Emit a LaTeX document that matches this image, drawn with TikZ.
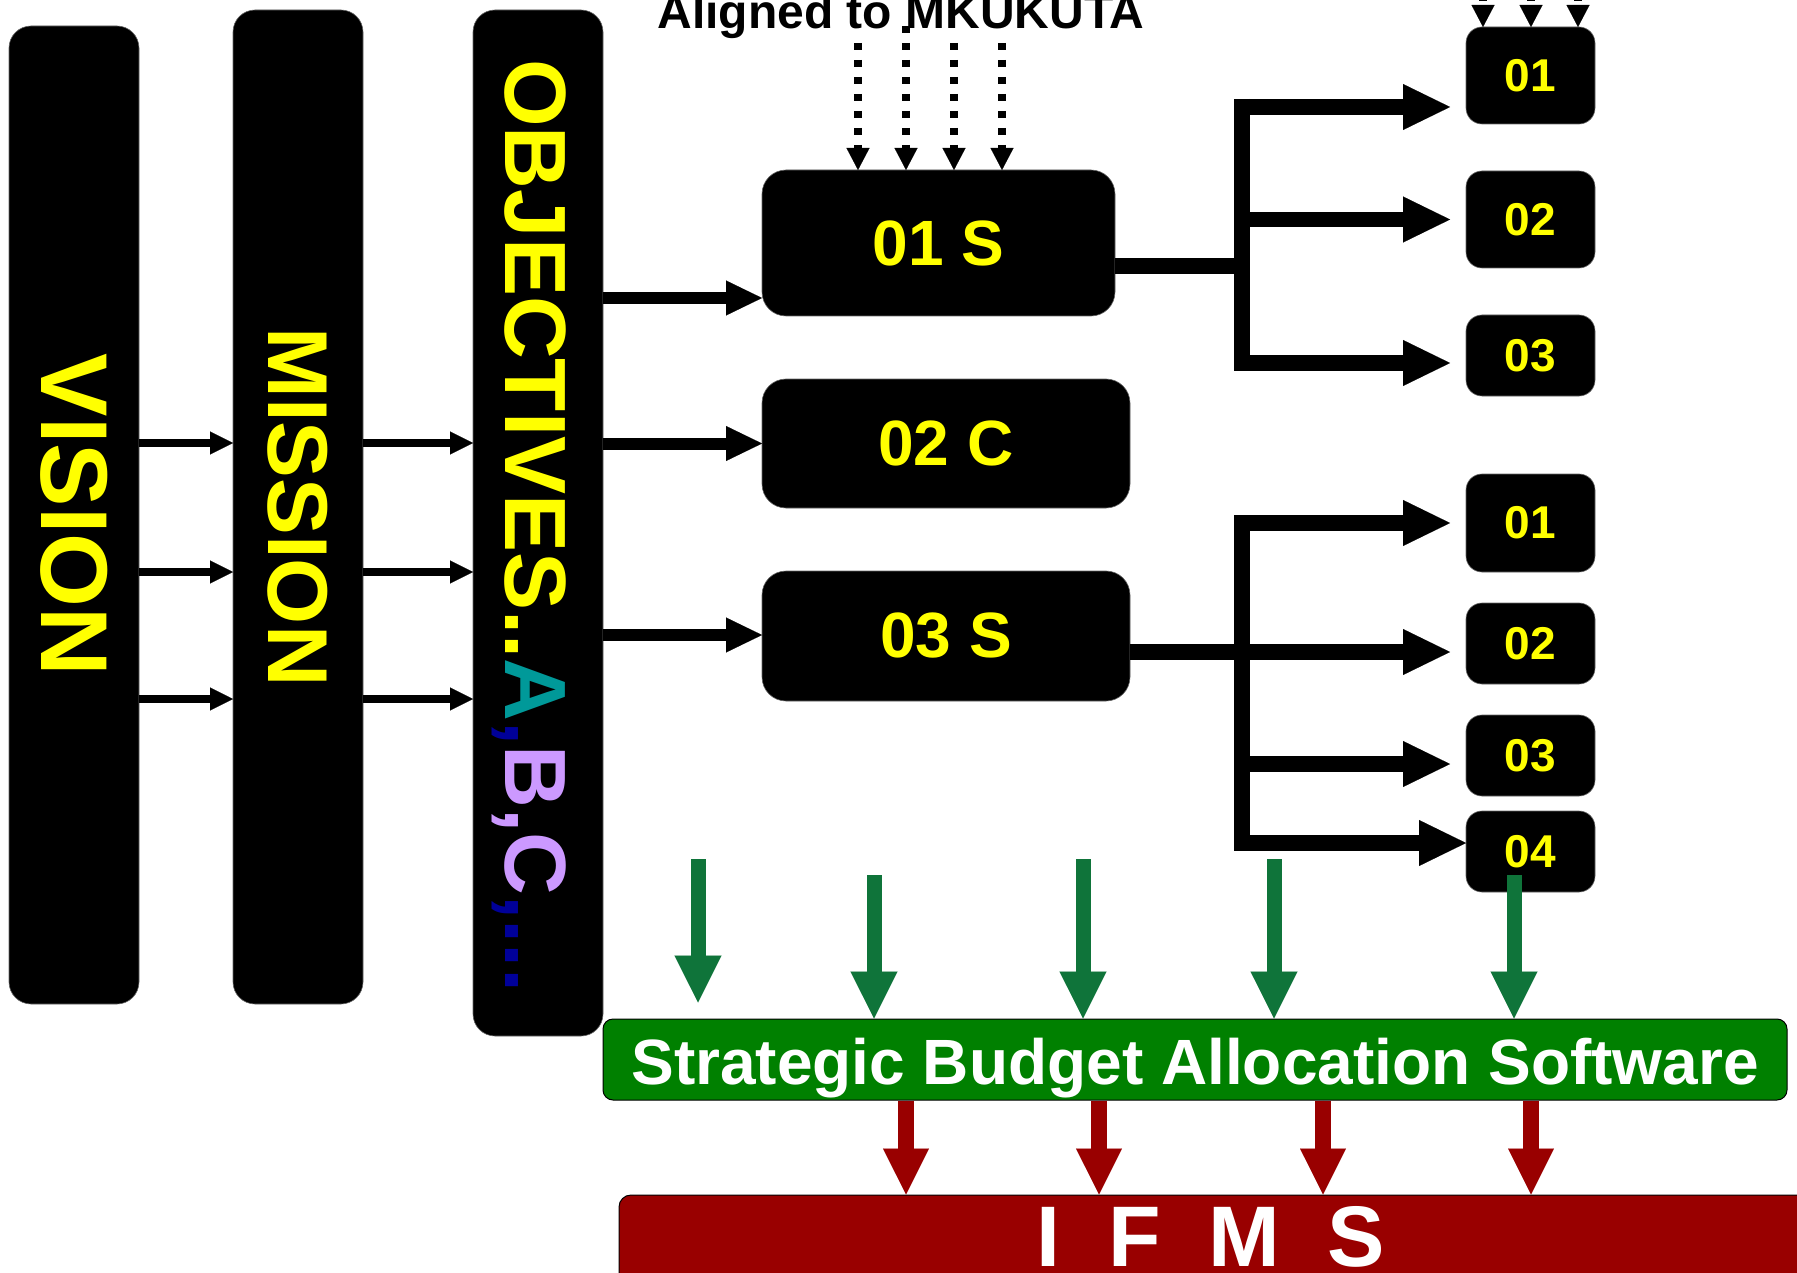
\documentclass[tikz,border=0pt]{standalone}
\usepackage{fontspec}
\setmainfont{Liberation Sans}
\usetikzlibrary{arrows.meta}
\definecolor{ylw}{HTML}{FFFF00}
\definecolor{tealA}{HTML}{009999}
\definecolor{dblue}{HTML}{000099}
\definecolor{lav}{HTML}{CC99FF}
\definecolor{garrow}{HTML}{0F743A}
\definecolor{gbox}{HTML}{008000}
\definecolor{rbox}{HTML}{990000}
\newcommand{\fsz}[1]{\fontsize{#1pt}{#1pt}\selectfont\bfseries}
\begin{document}
\begin{tikzpicture}[x=1pt,y=-1pt,
  blk/.style={rectangle, rounded corners=22pt, fill=black, draw=black!60, line width=0.6pt, inner sep=0pt, outer sep=0pt},
  midblk/.style={blk, rounded corners=24pt},
  smallblk/.style={blk, rounded corners=16pt, minimum width=129pt},
  ylab/.style={text=ylw, inner sep=0pt},
  thinarr/.style={line width=8pt, -{Triangle[length=23pt,width=23pt,line width=0.1pt]}},
  midarr/.style={line width=12pt, -{Triangle[length=36pt,width=35pt,line width=0.1pt]}},
  brarr/.style={line width=15.5pt, -{Triangle[length=47pt,width=46pt,line width=0.1pt]}},
  dotarr/.style={line width=8pt, dash pattern=on 7pt off 10pt, -{Triangle[length=22pt,width=23pt,line width=0.1pt]}},
  garr/.style={draw=garrow, fill=garrow, line width=15pt, -{Triangle[length=47pt,width=47pt,line width=0.1pt]}},
  rarr/.style={draw=rbox, fill=rbox, line width=15.5pt, -{Triangle[length=46pt,width=46pt,line width=0.1pt]}}
]
\useasboundingbox (0,0) rectangle (1797,1273);

% tall boxes
\node[blk, minimum width=130pt, minimum height=978pt] (vision) at (74,515) {};
\node[blk, minimum width=130pt, minimum height=994pt] (mission) at (298,507) {};
\node[blk, minimum width=130pt, minimum height=1026pt] (obj) at (538,523) {};
\node[rotate=-90, font=\fsz{95}, ylab] (vtxt) at (vision) {VISION};
\node[rotate=-90, font=\fsz{85}, ylab] (mtxt) at (mission) {MISSION};
\node[rotate=-90, anchor=base west, font=\fsz{87}, inner sep=0pt] (otxt) at (505,59)
  {\textcolor{ylw}{OBJECTIVES..}\textcolor{tealA}{A}\textcolor{dblue}{,}\textcolor{lav}{B,C}\textcolor{dblue}{,...}};

% middle boxes
\node[midblk, minimum width=353pt, minimum height=146pt] (s1) at (938.5,243) {};
\node[midblk, minimum width=368pt, minimum height=129pt] (c2) at (946,443.5) {};
\node[midblk, minimum width=368pt, minimum height=130pt] (s3) at (946,636) {};
\node[font=\fsz{64}, ylab] at (s1) {01 S};
\node[font=\fsz{64}, ylab] at (c2) {02 C};
\node[font=\fsz{64}, ylab] at (s3) {03 S};

% small boxes
\node[smallblk, minimum height=97pt] (a1) at (1530.5,75.5) {};
\node[smallblk, minimum height=97pt] (a2) at (1530.5,219.5) {};
\node[smallblk, minimum height=81pt] (a3) at (1530.5,355.5) {};
\node[smallblk, minimum height=98pt] (b1) at (1530.5,523) {};
\node[smallblk, minimum height=81pt] (b2) at (1530.5,643.5) {};
\node[smallblk, minimum height=81pt] (b3) at (1530.5,755.5) {};
\node[smallblk, minimum height=81pt] (b4) at (1530.5,851.5) {};
\foreach \n/\t in {a1/01,a2/02,a3/03,b1/01,b2/02,b3/03,b4/04}
  \node[font=\fsz{46}, ylab] at (\n) {\t};

% bottom bars
\node[rectangle, rounded corners=10pt, fill=gbox, draw=black, line width=1pt, minimum width=1184pt, minimum height=81pt, inner sep=0pt] (green) at (1195,1059.5) {};
\node[font=\fsz{64}, text=white, inner sep=0pt, anchor=base] at (1195,1084) {Strategic Budget Allocation Software};
\node[rectangle, rounded corners=12pt, fill=rbox, draw=black, line width=1pt, minimum width=1200pt, minimum height=110pt, inner sep=0pt] (ifms) at (1219,1250) {};
\node[font=\fsz{86}, text=white, inner sep=0pt] at (1211,1237) {I\ \ F\ \ M\ \ S};

% header text
\node[font=\fsz{48}, anchor=base, inner sep=0pt] (hdr) at (901,29) {Aligned to MKUKUTA};

% vision -> mission -> objectives
\foreach \yy in {443,572,699} {
  \draw[thinarr] (vision.east |- 0,\yy) -- (mission.west |- 0,\yy);
  \draw[thinarr] (mission.east |- 0,\yy) -- (obj.west |- 0,\yy);
}
% objectives -> strategies
\draw[midarr] (obj.east |- 0,298) -- (s1.west |- 0,298);
\draw[midarr] (obj.east |- 0,443.5) -- (c2.west);
\draw[midarr] (obj.east |- 0,635) -- (s3.west |- 0,635);

% dotted arrows
\coordinate (d1) at (858,43);
\coordinate (d2) at (906,26);
\coordinate (d3) at (954,43);
\coordinate (d4) at (1002,43);
\foreach \d in {d1,d2,d3,d4}
  \draw[dotarr] (\d) -- (s1.north -| \d);

% arrows from above into a1
\coordinate (t1) at (1483,-40);
\coordinate (t2) at (1531,-40);
\coordinate (t3) at (1578,-40);
\foreach \t in {t1,t2,t3}
  \draw[dotarr] (\t) -- (a1.north -| \t);

% branch from s1
\coordinate (j1) at (1242,266);
\coordinate (j1a) at (1242,107);
\coordinate (j1b) at (1242,219.5);
\coordinate (j1c) at (1242,363);
\draw[line width=16pt] (s1.east |- j1) -- (j1);
\draw[line width=15.5pt] (1242,99) -- (1242,371);
\draw[brarr, shorten >=16pt] (j1a) -- (a1.west |- j1a);
\draw[brarr, shorten >=16pt] (j1b) -- (a2.west |- j1b);
\draw[brarr, shorten >=16pt] (j1c) -- (a3.west |- j1c);

% branch from s3
\coordinate (j3) at (1242,652);
\coordinate (j3a) at (1242,523);
\coordinate (j3c) at (1242,764);
\coordinate (j3d) at (1242,843);
\draw[line width=15.5pt] (1242,515) -- (1242,851);
\draw[brarr, shorten >=16pt] (s3.east |- j3) -- (b2.west |- j3);
\draw[brarr, shorten >=16pt] (j3a) -- (b1.west |- j3a);
\draw[brarr, shorten >=16pt] (j3c) -- (b3.west |- j3c);
\draw[brarr] (j3d) -- (b4.west |- j3d);

% green arrows
\coordinate (g1) at (698,859);
\coordinate (g2) at (874,875);
\coordinate (g3) at (1083,859);
\coordinate (g4) at (1274,859);
\coordinate (g5) at (1514,875);
\draw[garr, shorten >=16pt] (g1) -- (green.north -| g1);
\foreach \g in {g2,g3,g4,g5}
  \draw[garr] (\g) -- (green.north -| \g);

% red arrows
\foreach \xx in {906,1099,1323,1531}
  \draw[rarr] (green.south -| \xx,0) -- (ifms.north -| \xx,0);
\end{tikzpicture}
\end{document}
